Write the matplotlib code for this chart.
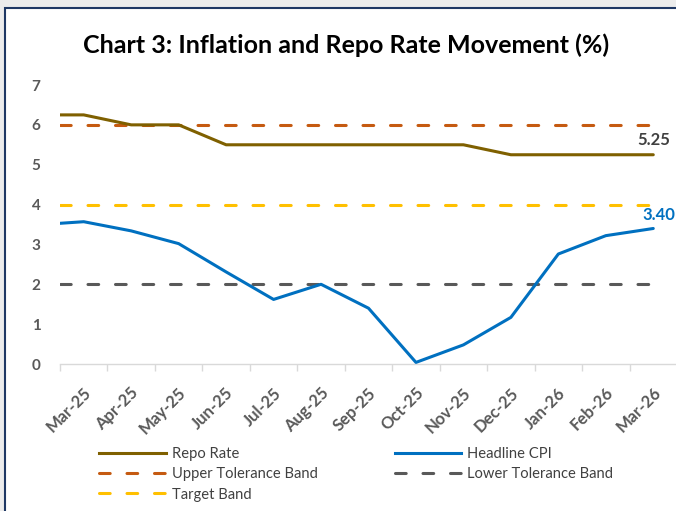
import numpy as np
import matplotlib
matplotlib.use("Agg")
import matplotlib.pyplot as plt
import matplotlib.transforms as mtrans
from matplotlib.lines import Line2D
from matplotlib.patches import Rectangle

plt.rcParams['font.family'] = ['Lato', 'DejaVu Sans']

months = ['Mar-25', 'Apr-25', 'May-25', 'Jun-25', 'Jul-25', 'Aug-25', 'Sep-25',
          'Oct-25', 'Nov-25', 'Dec-25', 'Jan-26', 'Feb-26', 'Mar-26']

# first value sits on the left edge of the axis (start of series), then one per month
repo_rate = [6.25, 6.25, 6.0, 6.0, 5.5, 5.5, 5.5, 5.5, 5.5, 5.5, 5.25, 5.25, 5.25, 5.25]
headline_cpi = [3.53, 3.57, 3.34, 3.02, 2.31, 1.62, 2.00, 1.40, 0.04, 0.48, 1.17, 2.76, 3.22, 3.40]
upper_band = [6] * 14
lower_band = [2] * 14
target_band = [4] * 14

c_repo = '#7f6000'
c_cpi = '#0070c0'
c_upper = '#c55a11'
c_lower = '#595959'
c_target = '#ffc000'

fig = plt.figure(figsize=(6.76, 5.11), dpi=100)

# outer grey margin and navy frame of the chart box
fig.patches.append(Rectangle((0, 0), 1, 1, transform=fig.transFigure,
                             facecolor='#ececec', edgecolor='none', zorder=-3))
fig.patches.append(Rectangle((5 / 676, -0.1), 1.1, 1.1 - 8 / 511, transform=fig.transFigure,
                             facecolor='white', edgecolor='#1f3864', linewidth=1.5, zorder=-2))

ax = fig.add_axes([60 / 676, 1 - 364 / 511, 617 / 676, (364 - 85) / 511])
ax.set_facecolor('none')

x = np.r_[-0.5, np.arange(len(months))]
lw = 2.2
ax.plot(x, repo_rate, color=c_repo, lw=lw, solid_capstyle='round', zorder=3)
ax.plot(x, headline_cpi, color=c_cpi, lw=lw, solid_capstyle='round', zorder=4)
dash = (3.5, 5.5)
for vals, col in [(upper_band, c_upper), (lower_band, c_lower), (target_band, c_target)]:
    ax.plot(x, vals, color=col, lw=lw, dashes=dash, dash_capstyle='round', zorder=2)

ax.set_xlim(-0.5, len(months) - 0.5)
ax.set_ylim(0, 7)
ax.set_yticks(range(8))
ax.set_xticks(range(len(months)))
ax.set_xticklabels(months, rotation=45, ha='right', va='center', rotation_mode='anchor')
ax.set_xticks(np.arange(-0.5, len(months), 1.0), minor=True)
ax.tick_params(axis='x', which='major', length=0, pad=19, labelsize=12, labelcolor='#595959')
ax.tick_params(axis='x', which='minor', length=5, color='#d9d9d9', width=1)
ax.tick_params(axis='y', length=0, pad=14, labelsize=11, labelcolor='#595959')
shift = mtrans.ScaledTranslation(5 / 100, 0, fig.dpi_scale_trans)
for lab in ax.get_xticklabels():
    lab.set_fontweight('bold')
    lab.set_transform(lab.get_transform() + shift)
for lab in ax.get_yticklabels():
    lab.set_fontweight('bold')

for s in ['left', 'right', 'top']:
    ax.spines[s].set_visible(False)
ax.spines['bottom'].set_color('#d9d9d9')
ax.spines['bottom'].set_linewidth(1)

ax.annotate(f'{repo_rate[-1]:.2f}', (x[-1], repo_rate[-1]), xytext=(0, 5),
            textcoords='offset points', ha='center', va='bottom',
            fontsize=12, fontweight='bold', color='#404040')
ax.annotate(f'{headline_cpi[-1]:.2f}', (x[-1], headline_cpi[-1]), xytext=(-8, 4),
            textcoords='offset points', ha='left', va='bottom',
            fontsize=12, fontweight='bold', color=c_cpi, annotation_clip=False)

fig.text(346 / 676, 1 - 45 / 511, 'Chart 3: Inflation and Repo Rate Movement (%)',
         ha='center', va='center', fontsize=18, fontweight='bold', color='black')

handles = [
    Line2D([], [], color=c_repo, lw=lw),
    Line2D([], [], color=c_upper, lw=lw, dashes=dash, dash_capstyle='round'),
    Line2D([], [], color=c_target, lw=lw, dashes=dash, dash_capstyle='round'),
    Line2D([], [], color=c_cpi, lw=lw),
    Line2D([], [], color=c_lower, lw=lw, dashes=dash, dash_capstyle='round'),
]
labels = ['Repo Rate', 'Upper Tolerance Band', 'Target Band', 'Headline CPI', 'Lower Tolerance Band']
leg = fig.legend(handles, labels, ncol=2, loc='upper left',
                 bbox_to_anchor=(86 / 676, 1 - 434 / 511), frameon=False,
                 fontsize=10.6, handlelength=4.5, handletextpad=0.45,
                 columnspacing=5.2, labelspacing=0.42)
for t in leg.get_texts():
    t.set_color('#404040')

fig.savefig('out.png', dpi=100)
